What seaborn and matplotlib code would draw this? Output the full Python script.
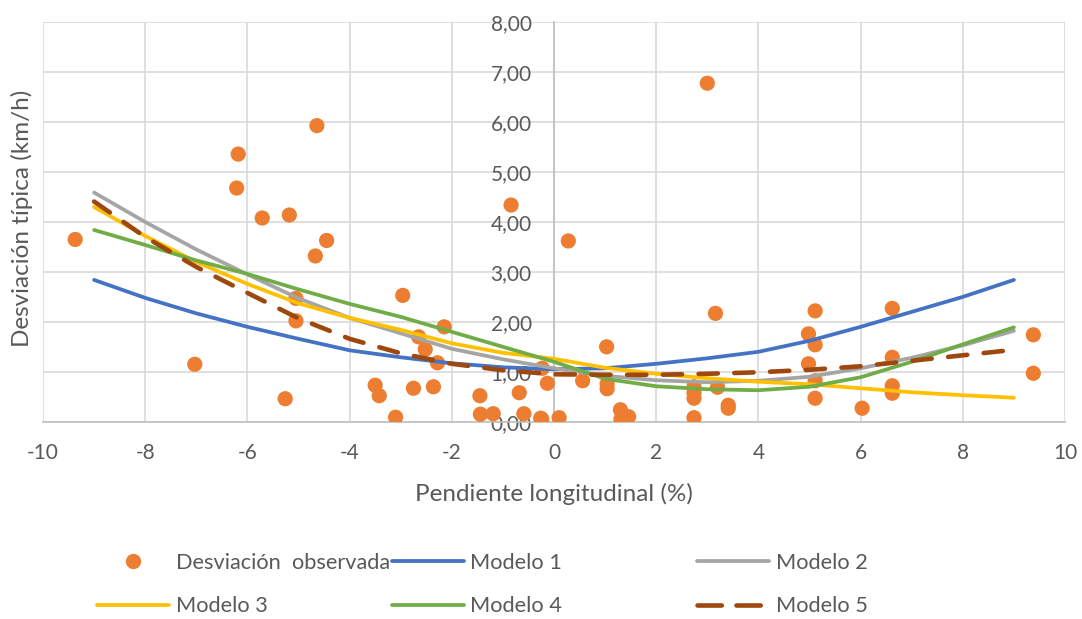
import pandas as pd
import numpy as np
import matplotlib.pyplot as plt
import seaborn as sns
from matplotlib.lines import Line2D
from matplotlib.ticker import FuncFormatter

# observed points (pendiente %, desviacion km/h)
obs_x = [-9.37, -7.03, -6.18, -6.21, -5.71, -5.26, -5.18, -5.05, -5.05, -4.64, -4.67, -4.45,
         -3.50, -3.42, -3.10, -2.96, -2.75, -2.65, -2.52, -2.36, -2.28, -2.15, -1.45, -1.44,
         -1.19, -0.84, -0.68, -0.59, -0.26, -0.24, -0.23, -0.13, 0.10, 0.28, 0.56, 1.03,
         1.04, 1.04, 1.30, 1.31, 1.46, 2.74, 2.74, 2.74, 2.74, 3.00, 3.16, 3.20, 3.41, 3.41,
         4.98, 4.98, 5.11, 5.11, 5.11, 5.11, 6.03, 6.62, 6.62, 6.62, 6.62, 9.38, 9.38]
obs_y = [3.65, 1.15, 5.36, 4.68, 4.08, 0.46, 4.14, 2.47, 2.02, 5.93, 3.32, 3.63,
         0.73, 0.52, 0.09, 2.53, 0.67, 1.70, 1.45, 0.70, 1.18, 1.90, 0.52, 0.15,
         0.16, 4.34, 0.58, 0.16, 0.07, 0.05, 1.07, 0.77, 0.08, 3.62, 0.82, 1.50,
         0.76, 0.66, 0.24, 0.05, 0.10, 0.70, 0.58, 0.47, 0.08, 6.78, 2.17, 0.69, 0.33, 0.27,
         1.76, 1.16, 2.22, 1.54, 0.82, 0.47, 0.27, 2.27, 1.29, 0.72, 0.57, 1.74, 0.97]

# model curves read at integer slopes
model_x = [-9, -8, -7, -6, -5, -4, -3, -2, -1, 0, 1, 2, 3, 4, 5, 6, 7, 8, 9]
modelo1 = [2.84, 2.48, 2.17, 1.90, 1.66, 1.43, 1.29, 1.17, 1.09, 1.05, 1.07, 1.16, 1.27, 1.40, 1.62, 1.90, 2.20, 2.50, 2.84]
modelo2 = [4.59, 4.00, 3.45, 2.95, 2.47, 2.08, 1.77, 1.46, 1.25, 1.07, 0.92, 0.83, 0.79, 0.82, 0.90, 1.07, 1.28, 1.53, 1.82]
modelo3 = [4.30, 3.72, 3.20, 2.76, 2.37, 2.08, 1.84, 1.57, 1.38, 1.26, 1.08, 0.96, 0.87, 0.80, 0.75, 0.67, 0.59, 0.53, 0.48]
modelo4 = [3.84, 3.54, 3.23, 2.96, 2.65, 2.36, 2.10, 1.80, 1.50, 1.20, 0.86, 0.71, 0.65, 0.63, 0.70, 0.89, 1.20, 1.55, 1.89]
modelo5 = [4.41, 3.70, 3.10, 2.58, 2.07, 1.66, 1.37, 1.16, 1.03, 0.95, 0.94, 0.94, 0.96, 0.99, 1.04, 1.11, 1.22, 1.33, 1.44]

x_ticks = [-10, -8, -6, -4, -2, 0, 2, 4, 6, 8, 10]
y_ticks = [0, 1, 2, 3, 4, 5, 6, 7, 8]

sns.set_style('white')
plt.rcParams['font.family'] = ['Lato', 'DejaVu Sans']
txt = '#595959'

obs_df = pd.DataFrame({'x': obs_x, 'y': obs_y})
mod_df = pd.DataFrame({'x': model_x, 'Modelo 1': modelo1, 'Modelo 2': modelo2,
                       'Modelo 3': modelo3, 'Modelo 4': modelo4, 'Modelo 5': modelo5})

fig = plt.figure(figsize=(10.82, 6.19), dpi=100)
ax = fig.add_axes([43 / 1082, 1 - 421.7 / 619, 1022 / 1082, 399.4 / 619])

sns.scatterplot(data=obs_df, x='x', y='y', ax=ax, color='#ED7D31', s=120,
                edgecolor='none', zorder=3, legend=False)

styles = {'Modelo 1': ('#4472C4', '-'), 'Modelo 2': ('#A5A5A5', '-'),
          'Modelo 3': ('#FFC000', '-'), 'Modelo 4': ('#70AD47', '-'),
          'Modelo 5': ('#9E480E', '--')}
for name, (col, ls) in styles.items():
    if ls == '--':
        sns.lineplot(data=mod_df, x='x', y=name, ax=ax, color=col, lw=3.3,
                     zorder=4, legend=False)
        ax.lines[-1].set_dashes((4.2, 3.6))
        ax.lines[-1].set_dash_capstyle('round')
    else:
        sns.lineplot(data=mod_df, x='x', y=name, ax=ax, color=col, lw=2.7,
                     zorder=4, legend=False)

ax.set_xlim(-10, 10)
ax.set_ylim(0, 8)
ax.set_xticks(x_ticks)
ax.set_yticks(y_ticks)
ax.xaxis.set_major_formatter(FuncFormatter(lambda v, p: str(int(v))))
ax.yaxis.set_major_formatter(FuncFormatter(lambda v, p: f'{v:.2f}'.replace('.', ',')))
ax.grid(True, color='#D9D9D9', lw=1.2, zorder=0)
ax.set_axisbelow(True)

for s in ['top', 'right']:
    ax.spines[s].set_visible(False)
ax.spines['left'].set_position(('data', 0))
ax.spines['left'].set_color('#BFBFBF')
ax.spines['bottom'].set_color('#BFBFBF')
ax.spines['left'].set_linewidth(1.2)
ax.spines['bottom'].set_linewidth(1.2)
ax.tick_params(axis='x', length=0, pad=15, labelsize=15, labelcolor=txt)
ax.tick_params(axis='y', length=0, pad=16, labelsize=15, labelcolor=txt)

ax.set_xlabel('Pendiente longitudinal (%)', fontsize=17.5, color=txt)
ax.set_ylabel('Desviación típica (km/h)', fontsize=17.5, color=txt)
ax.xaxis.set_label_coords(0.5, -0.18)
ax.xaxis.label.set_va('center')
ax.yaxis.set_label_coords(-0.021, 0.51)
ax.yaxis.label.set_va('center')

# legend: three columns, Excel style
h_obs = Line2D([], [], color='#ED7D31', marker='o', ls='none', markersize=11, markeredgewidth=0)
h = {n: Line2D([], [], color=c, lw=(3.3 if l == '--' else 2.7), ls=l) for n, (c, l) in styles.items()}
h['Modelo 5'].set_dashes((5.3, 3.2))
h['Modelo 5'].set_dash_capstyle('round')
cols = [([h_obs, h['Modelo 3']], ['Desviación  observada', 'Modelo 3'], 97),
        ([h['Modelo 1'], h['Modelo 4']], ['Modelo 1', 'Modelo 4'], 392),
        ([h['Modelo 2'], h['Modelo 5']], ['Modelo 2', 'Modelo 5'], 697)]
for hs, ls_, xp in cols:
    fig.legend(hs, ls_, loc='center left', bbox_to_anchor=(xp / 1082, 1 - 584.5 / 619),
               frameon=False, fontsize=15.7, labelcolor=txt, handlelength=3.3,
               handletextpad=0.3, borderpad=0, borderaxespad=0, labelspacing=1.1)

plt.savefig('out.png', dpi=100)
